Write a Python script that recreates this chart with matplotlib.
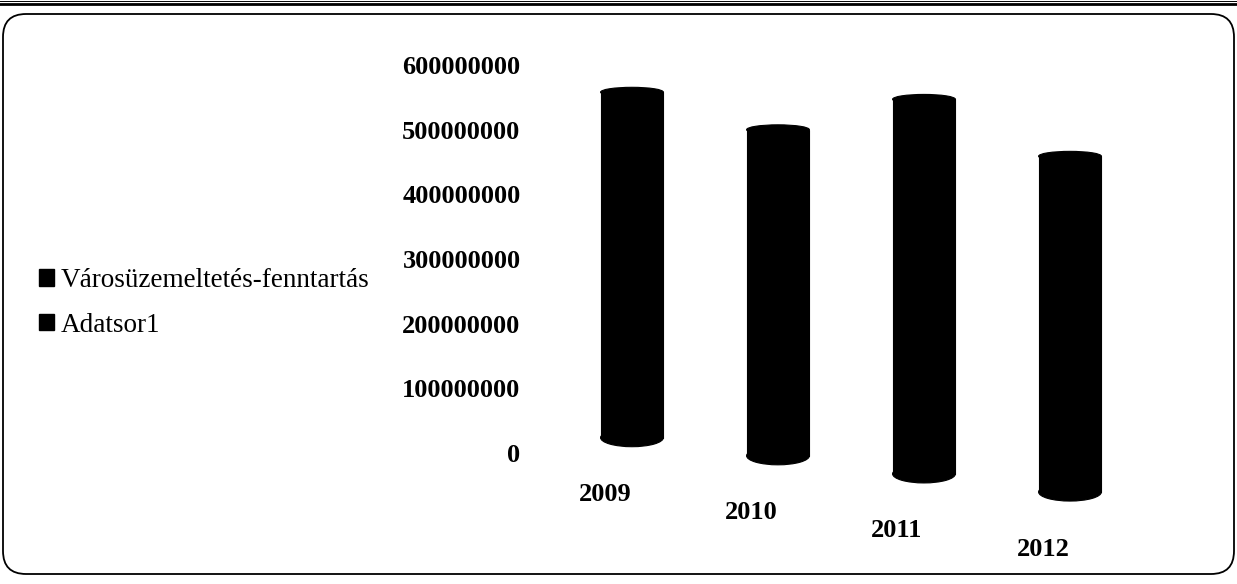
import numpy as np
import matplotlib
matplotlib.use("Agg")
import matplotlib.pyplot as plt
from matplotlib.patches import Ellipse, FancyBboxPatch, Patch
from matplotlib.lines import Line2D
from matplotlib.transforms import IdentityTransform

years = ["2009", "2010", "2011", "2012"]
values = [558e6, 500e6, 547e6, 459e6]
yticks = [0, 100000000, 200000000, 300000000, 400000000, 500000000, 600000000]
legend_labels = ["Városüzemeltetés-fenntartás", "Adatsor1"]

plt.rcParams["font.family"] = ["Liberation Serif", "DejaVu Serif"]

W, H = 1237, 584
fig = plt.figure(figsize=(W / 100, H / 100), dpi=100)
fig.patch.set_facecolor("white")

# plot area in pixels (x 540..1170, y 60..560 from top)
ax = fig.add_axes([540 / W, (H - 560) / H, 630 / W, 500 / H])
ax.set_xlim(-0.63, 3.685)
ax.set_ylim(-165.1e6, 607.7e6)

x = np.arange(len(years))
# 3d look: floor drops towards the right
base = 24e6 - 28e6 * x
width = 0.43
top_h = 15e6
bot_h = 28e6

ax.bar(x, np.array(values) - base, bottom=base, width=width, color="black",
       edgecolor="black", linewidth=0.8, zorder=2)
for xi, v, b in zip(x, values, base):
    ax.add_patch(Ellipse((xi, v), width, top_h, facecolor="black", edgecolor="black",
                         linewidth=0.8, zorder=3))
    ax.add_patch(Ellipse((xi, b), width, bot_h, facecolor="black", edgecolor="black",
                         linewidth=0.8, zorder=3))
    ax.annotate(years[xi], (xi, b), xytext=(-27, -57), textcoords="offset pixels",
                ha="center", va="center", fontsize=19, fontweight="bold")

ax.set_yticks(yticks)
ax.set_yticklabels([str(t) for t in yticks], fontsize=19, fontweight="bold")
ax.tick_params(axis="y", length=0, pad=14)
ax.set_xticks([])
for s in ax.spines.values():
    s.set_visible(False)
ax.patch.set_alpha(0)

handles = [Patch(facecolor="black", edgecolor="black") for _ in legend_labels]
fig.legend(handles, legend_labels, loc="upper left", bbox_to_anchor=(39 / W, 1 - 268 / H),
           frameon=False, fontsize=19.5, handlelength=0.55, handleheight=0.55,
           handletextpad=0.25, labelspacing=0.72, borderpad=0, borderaxespad=0)

# rounded chart border
frame = FancyBboxPatch((3, 10), 1231, 560, boxstyle="round,pad=0,rounding_size=23",
                       transform=IdentityTransform(), fill=False, edgecolor="black",
                       linewidth=1.3)
fig.patches.append(frame)
# page rule at the top
fig.add_artist(Line2D([0, 1], [1 - 0.5 / H, 1 - 0.5 / H], color="black", linewidth=0.7))
fig.add_artist(Line2D([0, 1], [1 - 4 / H, 1 - 4 / H], color="black", linewidth=2))

fig.savefig("out.png", dpi=100)
